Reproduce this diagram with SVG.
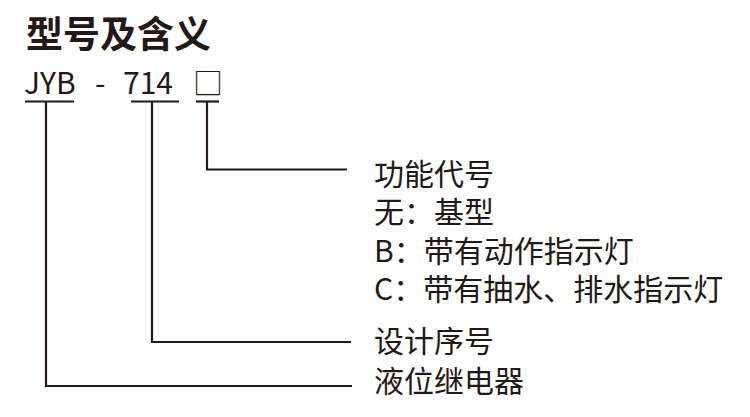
<svg xmlns="http://www.w3.org/2000/svg" width="750" height="417" viewBox="0 0 750 417">
<style>
  .t { font-family: "Noto Sans CJK SC", "Noto Sans", sans-serif; fill: #231815; }
  .title { font-size: 37px; font-weight: 700; }
  .code { font-size: 30px; font-weight: 400; }
  .lbl { font-size: 30px; font-weight: 400; }
  .ln { stroke: #231815; stroke-width: 2.2; fill: none; }
</style>
<rect width="750" height="417" fill="#ffffff"/>
<g id="title">
  <text class="t title" x="26" y="48">型号及含义</text>
</g>
<g id="code">
  <text class="t code" x="24" y="94">JYB</text>
  <text class="t code" x="95" y="94">-</text>
  <text class="t code" x="123" y="94">714</text>
  <text class="t code" x="193" y="94">□</text>
</g>
<g id="connectors">
  <line class="ln" x1="25" y1="101.5" x2="74" y2="101.5"/>
  <line class="ln" x1="131" y1="101.5" x2="179" y2="101.5"/>
  <line class="ln" x1="196" y1="101.5" x2="219" y2="101.5"/>
  <polyline class="ln" points="207,101.5 207,169.5 347,169.5"/>
  <polyline class="ln" points="152,101.5 152,342 351,342"/>
  <polyline class="ln" points="46,101.5 46,386 352,386"/>
</g>
<g id="function-code">
  <text class="t lbl"><tspan x="374" y="185">功能代号</tspan><tspan x="374" y="223">无：基型</tspan><tspan x="374" y="262">B：带有动作指示灯</tspan><tspan x="374" y="300">C：带有抽水、排水指示灯</tspan></text>
</g>
<g id="design-number">
  <text class="t lbl" x="374" y="352">设计序号</text>
</g>
<g id="relay">
  <text class="t lbl" x="374" y="392">液位继电器</text>
</g>
</svg>
